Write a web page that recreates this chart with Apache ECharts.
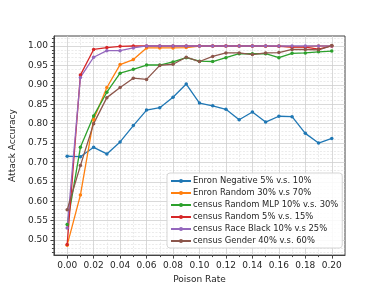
<!DOCTYPE html>
<html>
<head>
<meta charset="utf-8">
<script src="https://cdn.jsdelivr.net/npm/echarts@6/dist/echarts.min.js"></script>
<style>html,body{margin:0;padding:0;background:#fff}#c{width:384px;height:289px}</style>
</head>
<body>
<div id="c"></div>
<script>
const poisonRates = [0,0.01,0.02,0.03,0.04,0.05,0.06,0.07,0.08,0.09,0.10,0.11,0.12,0.13,0.14,0.15,0.16,0.17,0.18,0.19,0.20];
const seriesNames = ['Enron Negative 5% v.s. 10%','Enron Random 30% v.s 70%','census Random MLP 10% v.s. 30%','census Random 5% v.s. 15%','census Race Black 10% v.s 25%','census Gender 40% v.s. 60%'];
const enronNegative = [0.716,0.715,0.739,0.722,0.753,0.795,0.835,0.841,0.868,0.902,0.853,0.846,0.837,0.810,0.830,0.804,0.819,0.818,0.775,0.750,0.762];
const enronRandom = [0.487,0.616,0.811,0.893,0.952,0.965,0.995,0.995,0.995,0.996,1.0,1.0,1.0,1.0,1.0,0.999,1.0,0.998,0.998,1.0,1.0];
const censusMLP = [0.540,0.739,0.820,0.881,0.930,0.940,0.951,0.951,0.959,0.970,0.961,0.960,0.970,0.980,0.980,0.980,0.970,0.981,0.982,0.985,0.987];
const censusRandom = [0.489,0.925,0.991,0.996,0.999,1.0,1.0,1.0,1.0,1.0,1.0,1.0,1.0,1.0,1.0,1.0,0.999,0.997,0.997,0.992,1.0];
const censusRace = [0.531,0.919,0.971,0.988,0.988,0.995,1.0,1.0,1.0,1.0,1.0,1.0,1.0,1.0,1.0,1.0,1.0,1.0,1.0,1.0,1.0];
const censusGender = [0.578,0.692,0.800,0.867,0.893,0.917,0.914,0.950,0.953,0.971,0.960,0.973,0.982,0.982,0.978,0.982,0.983,0.991,0.991,0.990,1.001];
const xMajorTicks = [0,0.02,0.04,0.06,0.08,0.10,0.12,0.14,0.16,0.18,0.20];
const xMinorTicks = [0.01,0.03,0.05,0.07,0.09,0.11,0.13,0.15,0.17,0.19];
const yMajorTicks = [0.50,0.55,0.60,0.65,0.70,0.75,0.80,0.85,0.90,0.95,1.00];
const yMinorTicks = [0.47,0.48,0.49,0.51,0.52,0.53,0.54,0.56,0.57,0.58,0.59,0.61,0.62,0.63,0.64,0.66,0.67,0.68,0.69,0.71,0.72,0.73,0.74,0.76,0.77,0.78,0.79,0.81,0.82,0.83,0.84,0.86,0.87,0.88,0.89,0.91,0.92,0.93,0.94,0.96,0.97,0.98,0.99,1.01,1.02];
const colors = ['#1f77b4','#ff7f0e','#2ca02c','#d62728','#9467bd','#8c564b'];
const allSeries = [enronNegative, enronRandom, censusMLP, censusRandom, censusRace, censusGender];

const font = 'DejaVu Sans';
const txt = '#262626';
const chart = echarts.init(document.getElementById('c'), null, {renderer:'canvas'});
const xMin = -0.01, xMax = 0.21, yMin = 0.4615, yMax = 1.0257;

chart.setOption({
  animation: false,
  color: colors,
  grid: {left: 48.5, right: 39, top: 36, bottom: 32, show: true, borderColor: '#444', borderWidth: 1, containLabel: false},
  xAxis: [{
    type: 'value', min: xMin, max: xMax, position: 'bottom',
    name: 'Poison Rate', nameLocation: 'middle', nameGap: 15,
    nameTextStyle: {fontFamily: font, fontSize: 9, color: txt},
    axisLine: {show: true, onZero: false, lineStyle: {color: '#444', width: 1}},
    axisTick: {show: true, customValues: xMajorTicks, length: 3.5, lineStyle: {color: '#444'}},
    axisLabel: {customValues: xMajorTicks, margin: 6, fontFamily: font, fontSize: 9, color: txt, formatter: v => v.toFixed(2)},
    splitLine: {show: true, lineStyle: {color: '#cfcfcf', width: 0.8}}
  }, {
    type: 'value', min: xMin, max: xMax, position: 'bottom',
    axisLine: {show: false, onZero: false},
    axisTick: {show: true, customValues: xMinorTicks, length: 2, lineStyle: {color: '#444'}},
    axisLabel: {show: false},
    splitLine: {show: true, lineStyle: {color: '#dddddd', width: 0.6, type: [2, 1.5]}}
  }],
  yAxis: [{
    type: 'value', min: yMin, max: yMax, position: 'left',
    name: 'Attack Accuracy', nameLocation: 'middle', nameGap: 28,
    nameTextStyle: {fontFamily: font, fontSize: 9, color: txt},
    axisLine: {show: true, onZero: false, lineStyle: {color: '#444', width: 1}},
    axisTick: {show: true, customValues: yMajorTicks, length: 3.5, lineStyle: {color: '#444'}},
    axisLabel: {customValues: yMajorTicks, margin: 6, fontFamily: font, fontSize: 9, color: txt, formatter: v => v.toFixed(2)},
    splitLine: {show: true, lineStyle: {color: '#cfcfcf', width: 0.8}}
  }, {
    type: 'value', min: yMin, max: yMax, position: 'left',
    axisLine: {show: false, onZero: false},
    axisTick: {show: true, customValues: yMinorTicks, length: 2, lineStyle: {color: '#444'}},
    axisLabel: {show: false},
    splitLine: {show: true, lineStyle: {color: '#dddddd', width: 0.6, type: [2, 1.5]}}
  }],
  legend: {
    orient: 'vertical', left: 167, top: 173,
    padding: [4, 4, 3, 3],
    itemWidth: 20, itemHeight: 5, itemGap: 4,
    backgroundColor: 'rgba(255,255,255,0.85)', borderColor: '#d5d5d5', borderWidth: 1, borderRadius: 3,
    textStyle: {fontFamily: font, fontSize: 8.4, color: txt, padding: [0,0,0,-3]},
    data: seriesNames
  },
  series: allSeries.map((d, i) => ({
    name: seriesNames[i], type: 'line', xAxisIndex: 0, yAxisIndex: 0,
    data: poisonRates.map((x, j) => [x, d[j]]),
    symbol: 'circle', symbolSize: 3.5, showSymbol: true,
    lineStyle: {width: 1.3, color: colors[i]}, itemStyle: {color: colors[i]},
    clip: false
  }))
});
</script>
</body>
</html>
